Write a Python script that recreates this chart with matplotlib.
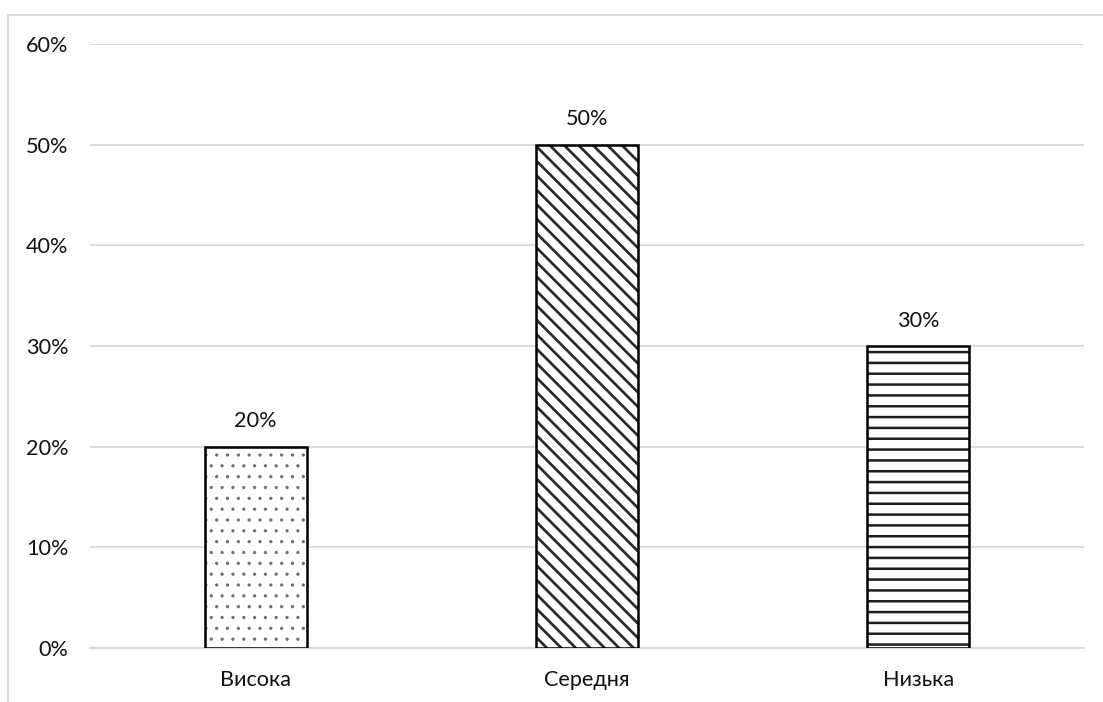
import matplotlib.pyplot as plt
from matplotlib.patches import Rectangle
from matplotlib.ticker import PercentFormatter

plt.rcParams["font.family"] = ["Lato", "DejaVu Sans"]

# рівні та частки
categories = ["Висока", "Середня", "Низька"]
shares = [0.20, 0.50, 0.30]
hatches = ["..", "\\\\\\", "--"]
hatch_colors = ["#6e6e6e", "#2a2a2a", "#1e1e1e"]
hatch_widths = [0.6, 1.5, 1.4]

fig = plt.figure(figsize=(1103 / 130, 702 / 130), dpi=130)
ax = fig.add_axes([0.0816, 0.0769, 0.9012, 0.8604])

# рамка діаграми
fig.patches.append(Rectangle((8 / 1103, -0.1), 1.2, 1.1 - 15 / 702,
                             transform=fig.transFigure, fill=False,
                             edgecolor="#d9d9d9", linewidth=1.0))

x = range(len(categories))
for i, (share, h, hc, hw) in enumerate(zip(shares, hatches, hatch_colors,
                                           hatch_widths)):
    with plt.rc_context({"hatch.linewidth": hw}):
        ax.bar(i, share, width=0.308, color="white", edgecolor=hc, hatch=h,
               linewidth=0, zorder=3)
    ax.bar(i, share, width=0.308, fill=False, edgecolor="black",
           linewidth=1.4, zorder=4)
    ax.annotate(f"{share:.0%}", (i, share), xytext=(0, 14),
                textcoords="offset points", ha="center", va="center",
                fontsize=12, color="#111111")

ax.set_xlim(-0.5, 2.5)
ax.set_ylim(0, 0.6)
ax.set_yticks([0, 0.1, 0.2, 0.3, 0.4, 0.5, 0.6])
ax.yaxis.set_major_formatter(PercentFormatter(1.0, decimals=0))
ax.set_xticks(list(x))
ax.set_xticklabels(categories)
ax.tick_params(axis="both", length=0, labelsize=12, labelcolor="#111111")
ax.tick_params(axis="y", pad=12)
ax.tick_params(axis="x", pad=12)

ax.grid(axis="y", color="#d9d9d9", linewidth=1.0, zorder=0)
for side in ["top", "right", "left"]:
    ax.spines[side].set_visible(False)
ax.spines["bottom"].set_color("#d9d9d9")
ax.spines["bottom"].set_linewidth(1.0)

fig.savefig("out.png", dpi=130)
